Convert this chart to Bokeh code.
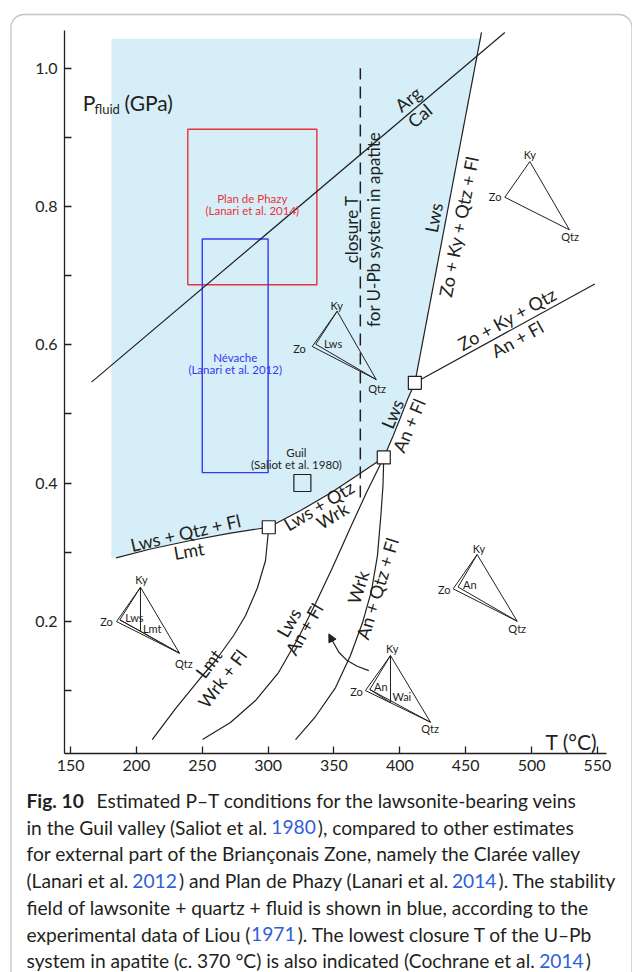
import math
import numpy as np
from bokeh.plotting import figure
from bokeh.models import (Range1d, FixedTicker, NumeralTickFormatter, BoxAnnotation,
                          Arrow, NormalHead, ColumnDataSource)
from bokeh.core.properties import value
from bokeh.embed import file_html
from bokeh.resources import INLINE

FONT = "Lato"
INK = "#231f20"
FIELD_BLUE = "#d5eef8"
RED = "#e8333b"
BLUE = "#3838f2"
LINK_BLUE = "#2f5fd6"

# ---------------- axes ----------------
x_ticks = [150, 200, 250, 300, 350, 400, 450, 500, 550]
y_ticks = [0.2, 0.4, 0.6, 0.8, 1.0]
y_minor_ticks = [0.1, 0.3, 0.5, 0.7, 0.9]

# ---------------- phase diagram (T in °C, P in GPa) ----------------
# invariant points
inv_T = [300.5, 387.8, 411.4]
inv_P = [0.336, 0.437, 0.545]

# Lws + Qtz + Fl = Lmt
lmt_T = [184.6, 210.7, 241.1, 271.4, 300.5]
lmt_P = [0.2917, 0.3045, 0.3168, 0.3276, 0.336]
# Lws + Qtz = Wrk
wrk_T = [300.5, 324.6, 347.4, 368.6, 387.8]
wrk_P = [0.336, 0.3602, 0.3855, 0.4123, 0.437]
# Lws = An + Fl (upper branch)
an_up_T = [387.8, 394.4, 400.5, 405.8, 411.4]
an_up_P = [0.437, 0.4657, 0.4947, 0.5207, 0.545]
# Lws = Zo + Ky + Qtz + Fl
zo_T = [411.4, 462.0]
zo_P = [0.545, 1.052]
# Zo + Ky + Qtz = An + Fl
zoan_T = [411.4, 548.0]
zoan_P = [0.545, 0.688]
# Arg = Cal
arg_T = [165.9, 479.7]
arg_P = [0.546, 1.052]
# Lmt = Wrk + Fl
lmtwrk_T = [300.5, 298.0, 291.9, 282.8, 273.7, 260.0, 248.7, 229.7, 212.0]
lmtwrk_P = [0.336, 0.2875, 0.2484, 0.2079, 0.1790, 0.1428, 0.1182, 0.0734, 0.0288]
# Lws = An + Fl (lower branch)
lwsan_T = [250.2, 271.4, 290.4, 307.9, 323.1, 336.0, 348.9, 362.5, 374.7, 387.8]
lwsan_P = [0.0288, 0.0534, 0.0852, 0.1258, 0.1764, 0.2256, 0.2777, 0.3356, 0.3862, 0.437]
# Wrk = An + Qtz + Fl
wrkan_T = [320.8, 336.0, 351.2, 362.5, 371.7, 378.5, 383.0, 385.6, 387.2, 387.8]
wrkan_P = [0.0288, 0.0621, 0.1040, 0.1503, 0.1981, 0.2444, 0.2950, 0.3529, 0.3963, 0.437]

# stability field of Lws + Qtz + Fl
field_T_min = 181.0
field_P_max = 1.043

# lowest closure T of the U-Pb system in apatite
closure_T = 370
closure_P = [0.379, 1.0]

# P-T estimates
phazy_T = [239.0, 337.0]
phazy_P = [0.687, 0.912]
nevache_T = [250.0, 300.0]
nevache_P = [0.415, 0.753]
guil_T = [326.0]
guil_P = [0.40]

# chemographic triangles: phase positions and tie lines
chemo_pts = [
    {"Ky": (498.7, 0.8652), "Zo": (479.7, 0.8135), "Qtz": (528.8, 0.7663)},
    {"Ky": (352.4, 0.6486), "Zo": (333.5, 0.5975), "Qtz": (382.1, 0.5497), "Lws": (336.2, 0.6008)},
    {"Ky": (203.1, 0.2492), "Zo": (184.9, 0.1995), "Qtz": (232.7, 0.1537), "Lws": (187.4, 0.2020),
     "Lmt": (203.1, 0.1855)},
    {"Ky": (458.7, 0.2965), "Zo": (440.5, 0.2469), "Qtz": (489.1, 0.2000), "An": (444.2, 0.2495)},
    {"Ky": (392.9, 0.1503), "Zo": (373.9, 0.0997), "Qtz": (423.3, 0.0538), "An": (377.2, 0.1012),
     "Wai": (392.9, 0.0823)},
]
chemo_ties = [
    [],
    [("Ky", "Lws"), ("Lws", "Qtz")],
    [("Ky", "Lws"), ("Lws", "Qtz"), ("Ky", "Lmt"), ("Lmt", "Qtz"), ("Lws", "Lmt")],
    [("Ky", "An"), ("An", "Qtz")],
    [("Ky", "An"), ("An", "Qtz"), ("Ky", "Wai"), ("An", "Wai")],
]

# reaction arrow
arrow_T = [376.4, 367.6, 360.0, 353.7, 348.7, 346.1]
arrow_P = [0.1286, 0.1349, 0.1431, 0.1551, 0.1721, 0.1817]

# ---------------- canvas geometry ----------------
# The plotting frame fills the whole canvas; the axes sit at fixed positions
# inside it so that the caption and the rounded frame can share the canvas.
W, H = 632, 972
AX_LEFT, AX_RIGHT, AX_TOP, AX_BOTTOM = 64, 606, 30, 753   # axis box in canvas pixels
T_MIN, T_MAX = 145.4, 556.9
P_MIN, P_MAX = 0.0086, 1.0548


def cx(px):
    return T_MIN + (px - AX_LEFT) / (AX_RIGHT - AX_LEFT) * (T_MAX - T_MIN)


def cy(py):
    return P_MAX - (py - AX_TOP) / (AX_BOTTOM - AX_TOP) * (P_MAX - P_MIN)


p = figure(width=W, height=H, x_range=Range1d(cx(0), cx(W)), y_range=Range1d(cy(H), cy(0)),
           output_backend="svg", toolbar_location=None,
           min_border_left=0, min_border_right=0, min_border_top=0, min_border_bottom=0)
p.title.text = ""
p.title.visible = False
p.xgrid.visible = False
p.ygrid.visible = False
p.outline_line_color = None
p.background_fill_color = "white"
p.border_fill_color = "white"

p.xaxis.ticker = FixedTicker(ticks=x_ticks)
p.yaxis.ticker = FixedTicker(ticks=y_ticks, minor_ticks=y_minor_ticks)
p.yaxis.formatter = NumeralTickFormatter(format="0.0")
p.xaxis.fixed_location = P_MIN
p.yaxis.fixed_location = T_MIN
p.xaxis.bounds = (T_MIN, T_MAX)
p.yaxis.bounds = (P_MIN, P_MAX)
for ax in (p.xaxis[0], p.yaxis[0]):
    ax.axis_line_color = INK
    ax.axis_line_width = 1.3
    ax.major_tick_line_color = INK
    ax.major_tick_line_width = 1.3
    ax.major_tick_in = 7
    ax.major_tick_out = 0
    ax.minor_tick_line_color = INK
    ax.minor_tick_line_width = 1.3
    ax.minor_tick_in = 7
    ax.minor_tick_out = 0
    ax.major_label_text_font = FONT
    ax.major_label_text_font_size = "16px"
    ax.major_label_text_color = INK
p.xaxis.minor_tick_line_color = None
p.xaxis.major_label_standoff = 6
p.yaxis.major_label_standoff = 7

# ---- stability field of Lws + Qtz + Fl ----
top_right_T = float(np.interp(field_P_max, zo_P, zo_T))
field_x = ([field_T_min, top_right_T] + an_up_T[::-1] + wrk_T[::-1][1:] + lmt_T[::-1][1:]
           + [field_T_min])
field_y = ([field_P_max, field_P_max] + an_up_P[::-1] + wrk_P[::-1][1:] + lmt_P[::-1][1:]
           + [lmt_P[0]])
p.patch(field_x, field_y, fill_color=FIELD_BLUE, line_color=None)

# ---- P-T estimate boxes ----
p.quad(left=[phazy_T[0]], right=[phazy_T[1]], bottom=[phazy_P[0]], top=[phazy_P[1]],
       fill_color=None, line_color=RED, line_width=1.4)
p.quad(left=[nevache_T[0]], right=[nevache_T[1]], bottom=[nevache_P[0]], top=[nevache_P[1]],
       fill_color=None, line_color=BLUE, line_width=1.4)

# ---- reaction curves ----
for xs, ys in [(arg_T, arg_P), (lmt_T, lmt_P), (wrk_T, wrk_P), (an_up_T, an_up_P),
               (zo_T, zo_P), (zoan_T, zoan_P), (lmtwrk_T, lmtwrk_P), (lwsan_T, lwsan_P),
               (wrkan_T, wrkan_P)]:
    p.line(xs, ys, line_color=INK, line_width=1.2)

p.line([closure_T, closure_T], closure_P, line_color=INK, line_width=1.5, line_dash="12 7")

# ---- chemographic triangles ----
tri_xs, tri_ys = [], []
for pts, ties in zip(chemo_pts, chemo_ties):
    edges = [("Ky", "Zo"), ("Zo", "Qtz"), ("Qtz", "Ky")] + ties
    for a, b in edges:
        tri_xs.append([pts[a][0], pts[b][0]])
        tri_ys.append([pts[a][1], pts[b][1]])
p.multi_line(tri_xs, tri_ys, line_color=INK, line_width=1.0)

# ---- arrow ----
p.line(arrow_T[:-1], arrow_P[:-1], line_color=INK, line_width=1.2)
p.add_layout(Arrow(end=NormalHead(size=8, fill_color=INK, line_color=INK),
                   x_start=arrow_T[-2], y_start=arrow_P[-2],
                   x_end=arrow_T[-1], y_end=arrow_P[-1],
                   line_color=INK, line_width=1.2))

# ---- invariant points and Guil estimate ----
p.scatter(inv_T, inv_P, marker="square", size=13, fill_color="white",
          line_color=INK, line_width=1.2)
p.scatter(guil_T, guil_P, marker="square", size=17, fill_color=None,
          line_color=INK, line_width=1.2)


def add_text(items, size, color=INK, align="center", baseline="middle", offsets=None,
             style="normal"):
    src = ColumnDataSource(dict(
        x=[it[1] for it in items], y=[it[2] for it in items], text=[it[0] for it in items],
        angle=[math.radians(it[3]) if len(it) > 3 else 0.0 for it in items],
        xo=offsets if offsets else [0] * len(items),
        color=color if isinstance(color, list) else [color] * len(items)))
    p.text(x="x", y="y", text="text", angle="angle", x_offset="xo", source=src,
           text_font=value(FONT), text_font_size=size, text_color="color",
           text_font_style=style, text_align=align, text_baseline=baseline)


# reaction labels
curve_labels = [
    ("Arg", 406.2, 0.9556, 40), ("Cal", 415.0, 0.9317, 40),
    ("Lws", 425.6, 0.7841, 79), ("Zo + Ky + Qtz + Fl", 444.6, 0.7711, 79),
    ("Zo + Ky + Qtz", 481.5, 0.6376, 29), ("An + Fl", 489.1, 0.6086, 29),
    ("Lws", 394.2, 0.5001, 67), ("An + Fl", 406.8, 0.4832, 67),
    ("Lws + Qtz", 338.5, 0.3674, 31), ("Wrk", 348.7, 0.3530, 31),
    ("Lws + Qtz + Fl", 237.3, 0.3283, 13), ("Lmt", 239.8, 0.3023, 10),
    ("Lmt", 254.7, 0.1388, 53), ("Wrk + Fl", 265.1, 0.1171, 53),
    ("Lws", 315.5, 0.1981, 60), ("An + Fl", 327.2, 0.1887, 60),
    ("Wrk", 368.2, 0.2492, 73), ("An + Qtz + Fl", 382.8, 0.2473, 73),
]
add_text(curve_labels, "18px")

# closure temperature note
add_text([("closure T", closure_T, 0.767, 90), ("for U-Pb system in apatite", closure_T, 0.767, 90)],
         "17px", offsets=[-9, 13])

# chemographic labels
chemo_labels = [
    ("Ky", 498.7, 0.8753), ("Zo", 472.3, 0.8146), ("Qtz", 529.2, 0.7566),
    ("Ky", 352.0, 0.6568), ("Zo", 323.8, 0.5946), ("Lws", 349.3, 0.6018), ("Qtz", 382.8, 0.5374),
    ("Ky", 203.9, 0.2603), ("Zo", 177.3, 0.1995), ("Lws", 198.5, 0.2058), ("Lmt", 212.0, 0.1901),
    ("Qtz", 236.0, 0.1395),
    ("Ky", 460.0, 0.3059), ("Zo", 433.7, 0.2458), ("An", 453.1, 0.2531), ("Qtz", 489.1, 0.1894),
    ("Ky", 394.2, 0.1605), ("Zo", 367.1, 0.0990), ("An", 385.6, 0.1055), ("Wai", 401.5, 0.0910),
    ("Qtz", 422.9, 0.0447),
]
add_text(chemo_labels, "11px")

# estimate labels
add_text([("Plan de Phazy", 288.0, 0.811), ("(Lanari et al. 2014)", 288.0, 0.794)], "11.5px", color=RED)
add_text([("Névache", 275.0, 0.581), ("(Lanari et al. 2012)", 275.0, 0.564)], "11.5px", color=BLUE)
add_text([("Guil", 321.5, 0.4445), ("(Saliot et al. 1980)", 321.5, 0.4267)], "11.5px")

# axis titles
add_text([("P", cx(82.3), cy(101.7)), ("(GPa)", cx(124), cy(101.7))], "21px",
         align="left", baseline="alphabetic")
add_text([("fluid", cx(94), cy(108.3))], "13px", align="left", baseline="alphabetic")
add_text([("T (°C)", cx(545), cy(740.7))], "21px", align="left", baseline="alphabetic")

# ---------------- caption ----------------
# approximate advance widths (em) used to chain differently coloured runs of text
LATO_W = {" ": .2, ".": .23, ",": .23, "(": .3, ")": .3, "-": .36, "–": .56, "+": .58, "°": .4,
          "a": .48, "b": .55, "c": .45, "ç": .45, "d": .55, "e": .505, "é": .505, "f": .32,
          "g": .5, "h": .54, "i": .23, "j": .23, "k": .49, "l": .23, "m": .81, "n": .54,
          "o": .555, "p": .55, "q": .55, "r": .36, "s": .41, "t": .34, "u": .54, "v": .5,
          "w": .75, "x": .49, "y": .5, "z": .44, "B": .66, "C": .68, "F": .55, "G": .75,
          "L": .5, "P": .6, "T": .6, "U": .73, "Z": .63, "E": .55, "S": .53}
for d in "0123456789":
    LATO_W[d] = .58
W_SCALE = 1.045

CAP_SIZE = 19.2
CAP_X0 = 26
CAP_BASE0 = 800
CAP_STEP = 26.7

caption_lines = [
    [("Fig. 10", "bold", INK), ("Estimated P–T conditions for the lawsonite-bearing veins", "normal", INK)],
    [("in the Guil valley (Saliot et al. ", "normal", INK), ("1980", "normal", LINK_BLUE),
     ("), compared to other estimates", "normal", INK)],
    [("for external part of the Briançonais Zone, namely the Clarée valley", "normal", INK)],
    [("(Lanari et al. ", "normal", INK), ("2012", "normal", LINK_BLUE),
     (") and Plan de Phazy (Lanari et al. ", "normal", INK), ("2014", "normal", LINK_BLUE),
     ("). The stability", "normal", INK)],
    [("field of lawsonite + quartz + fluid is shown in blue, according to the", "normal", INK)],
    [("experimental data of Liou (", "normal", INK), ("1971", "normal", LINK_BLUE),
     ("). The lowest closure T of the U–Pb", "normal", INK)],
    [("system in apatite (c. 370 °C) is also indicated (Cochrane et al. ", "normal", INK),
     ("2014", "normal", LINK_BLUE), (")", "normal", INK)],
]

cap_normal, cap_normal_colors, cap_bold = [], [], []
for i, segs in enumerate(caption_lines):
    xpos = CAP_X0
    base = CAP_BASE0 + i * CAP_STEP
    for text, weight, color in segs:
        item = (text, cx(xpos), cy(base))
        if weight == "bold":
            cap_bold.append(item)
        else:
            cap_normal.append(item)
            cap_normal_colors.append(color)
        w = sum(LATO_W.get(c, 0.55) for c in text) * CAP_SIZE * W_SCALE
        if weight == "bold":
            w = w * 1.05 + 0.5 * CAP_SIZE
        xpos += w

add_text(cap_normal, f"{CAP_SIZE}px", color=cap_normal_colors, align="left", baseline="alphabetic")
add_text(cap_bold, f"{CAP_SIZE}px", align="left", baseline="alphabetic", style="bold")

# rounded frame around figure and caption
p.add_layout(BoxAnnotation(left=cx(10.5), right=cx(631.5), top=cy(14), bottom=cy(985),
                           fill_alpha=0, line_color="#3c3c3c", line_width=1.3,
                           border_radius=13))

open("out.html", "w").write(file_html(p, INLINE))
